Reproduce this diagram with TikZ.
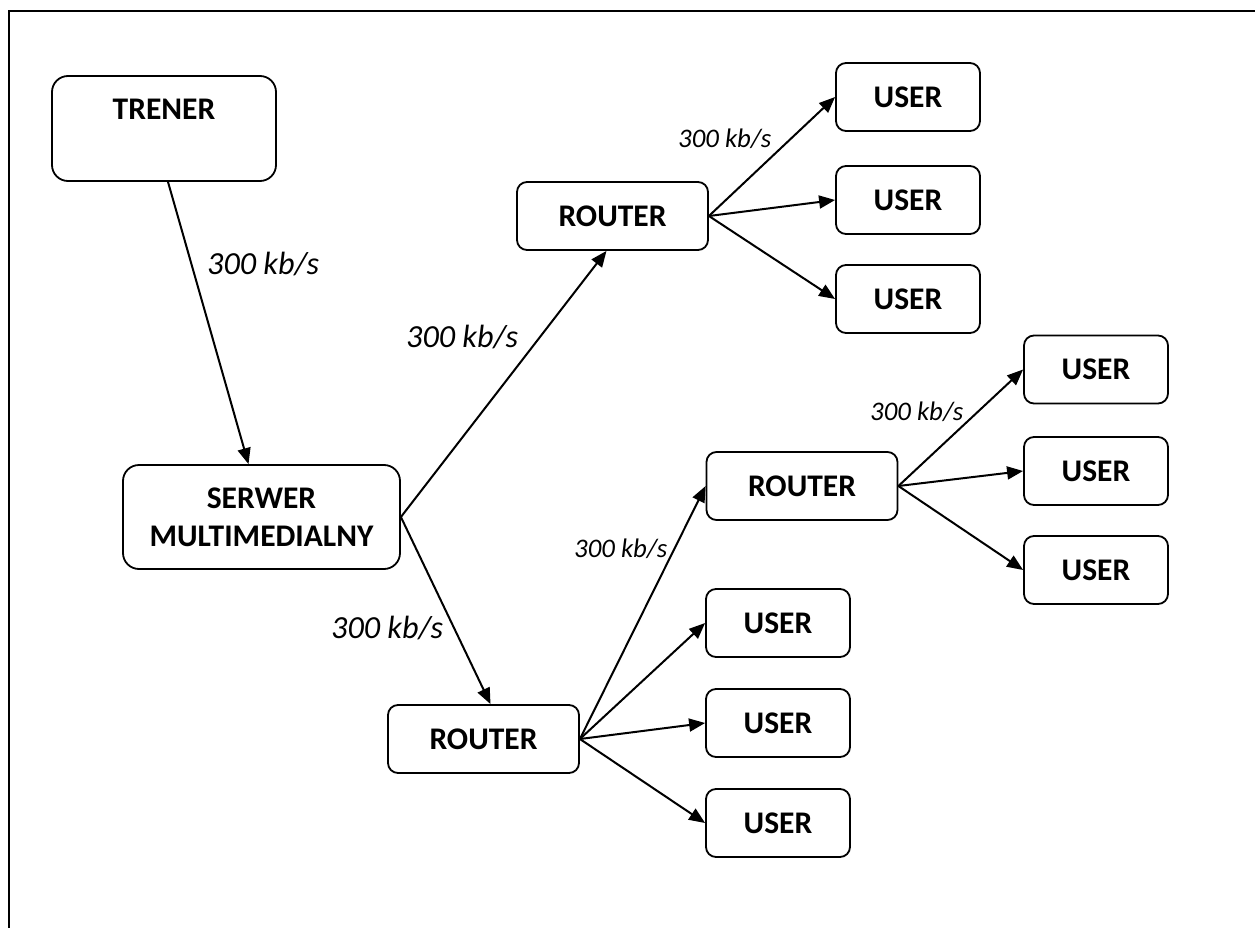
\documentclass[tikz,border=0pt]{standalone}
\usepackage{fontspec}
\setmainfont{Carlito}
\usetikzlibrary{arrows.meta}
\tikzset{
  box/.style={draw, line width=1.8pt, rounded corners=10pt, inner sep=0pt,
    font=\fontsize{31.5}{38}\selectfont\bfseries, align=center},
  userbox/.style={box, minimum width=144pt, minimum height=68pt},
  routerbox/.style={box, minimum width=191pt, minimum height=68pt},
  link/.style={line width=2pt, -{Triangle[length=16pt,width=13pt]}},
  biglabel/.style={anchor=base west, inner sep=0pt, font=\fontsize{32.2}{36}\selectfont\itshape},
  smalllabel/.style={anchor=base west, inner sep=0pt, font=\fontsize{26.8}{30}\selectfont\itshape},
}
\begin{document}
\begin{tikzpicture}[x=1pt,y=-1pt]
\useasboundingbox (0,0) rectangle (1255,928);
% frame (top and left edges)
\draw[line width=2.5pt] (9,928) -- (9,11) -- (1255,11);

% nodes
\node[box, rounded corners=16pt, minimum width=224pt, minimum height=105pt] (trener) at (164,128.5) {TRENER\\\mbox{}};
\node[box, rounded corners=16pt, minimum width=277pt, minimum height=104pt] (serwer) at (261.5,517) {SERWER\\MULTIMEDIALNY};

\node[routerbox] (r1) at (612.5,216) {ROUTER};
\node[routerbox] (r2) at (483.5,739) {ROUTER};
\node[routerbox] (r3) at (802,486) {ROUTER};

\node[userbox] (u11) at (908,97) {USER};
\node[userbox] (u12) at (908,200) {USER};
\node[userbox] (u13) at (908,299) {USER};

\node[userbox] (u31) at (1096,369.5) {USER};
\node[userbox] (u32) at (1096,471) {USER};
\node[userbox] (u33) at (1096,570) {USER};

\node[userbox] (u21) at (778,623) {USER};
\node[userbox] (u22) at (778,723) {USER};
\node[userbox] (u23) at (778,823) {USER};

% connectors
\draw[link] ([xshift=4pt]trener.south) -- ([xshift=-13pt]serwer.north);
\draw[link] (serwer.east) -- ([xshift=-6pt]r1.south);
\draw[link] (serwer.east) -- ([xshift=7pt]r2.north);

\draw[link] (r1.east) -- (u11.west);
\draw[link] (r1.east) -- (u12.west);
\draw[link] (r1.east) -- (u13.west);

\draw[link] (r2.east) -- (r3.west);
\draw[link] (r2.east) -- (u21.west);
\draw[link] (r2.east) -- (u22.west);
\draw[link] (r2.east) -- (u23.west);

\draw[link] (r3.east) -- (u31.west);
\draw[link] (r3.east) -- (u32.west);
\draw[link] (r3.east) -- (u33.west);

% rate labels
\node[biglabel] (l1) at (207,274) {300 kb/s};
\node[biglabel] (l2) at (406,347) {300 kb/s};
\node[biglabel] (l3) at (331,638) {300 kb/s};
\node[smalllabel] (l4) at (678,148) {300 kb/s};
\node[smalllabel] (l5) at (574,557) {300 kb/s};
\node[smalllabel] (l6) at (870,420) {300 kb/s};
\end{tikzpicture}
\end{document}
